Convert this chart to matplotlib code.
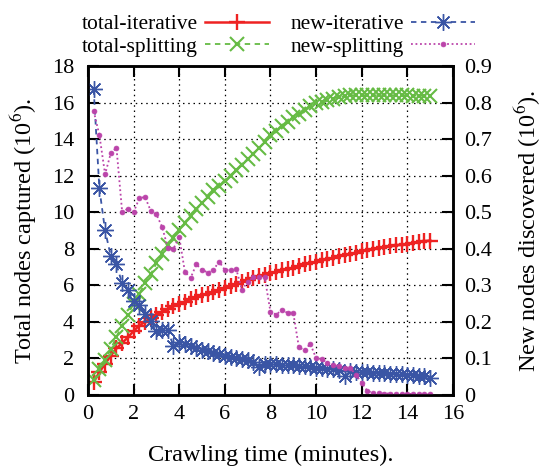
import numpy as np
import matplotlib
matplotlib.use("Agg")
import matplotlib.pyplot as plt

plt.rcParams['font.family'] = ['Liberation Serif', 'DejaVu Serif']
plt.rcParams['mathtext.fontset'] = 'stix'

# crawling time, one sample every 15 s
minutes = np.arange(1, 61) * 0.25

total_iterative = [0.7, 1.25, 1.7, 2.15, 2.55, 2.85, 3.15, 3.5, 3.8, 4.0,
                   4.2, 4.38, 4.55, 4.7, 4.85, 4.97, 5.1, 5.25, 5.35, 5.45,
                   5.55, 5.65, 5.76, 5.87, 5.97, 6.07, 6.17, 6.28, 6.39, 6.5,
                   6.58, 6.67, 6.75, 6.83, 6.9, 6.97, 7.06, 7.15, 7.22, 7.28,
                   7.36, 7.43, 7.5, 7.58, 7.65, 7.72, 7.79, 7.86, 7.92, 7.97,
                   8.03, 8.08, 8.13, 8.18, 8.23, 8.27, 8.32, 8.37, 8.41, 8.45]
total_splitting = [0.8, 1.4, 1.9, 2.5, 3.2, 3.8, 4.4, 5.0, 5.55, 6.1,
                   6.6, 7.2, 7.7, 8.2, 8.6, 9.0, 9.4, 9.8, 10.15, 10.5,
                   10.85, 11.2, 11.45, 11.7, 12.0, 12.3, 12.6, 12.9, 13.2, 13.5,
                   13.85, 14.2, 14.45, 14.7, 14.95, 15.2, 15.4, 15.6, 15.8, 15.95,
                   16.05, 16.15, 16.22, 16.3, 16.35, 16.4, 16.4, 16.4, 16.4, 16.4,
                   16.4, 16.4, 16.4, 16.4, 16.4, 16.4, 16.38, 16.38, 16.36, 16.35]
new_iterative = [0.836, 0.565, 0.45, 0.38, 0.357, 0.305, 0.288, 0.256, 0.246, 0.222,
                 0.203, 0.175, 0.178, 0.178, 0.133, 0.145, 0.14, 0.135, 0.128, 0.124,
                 0.12, 0.116, 0.112, 0.108, 0.105, 0.102, 0.099, 0.095, 0.09, 0.076,
                 0.086, 0.085, 0.084, 0.083, 0.082, 0.081, 0.08, 0.078, 0.076, 0.075,
                 0.074, 0.072, 0.07, 0.068, 0.052, 0.065, 0.064, 0.063, 0.062, 0.061,
                 0.06, 0.059, 0.058, 0.058, 0.057, 0.056, 0.055, 0.053, 0.051, 0.046]
new_splitting = [0.777, 0.711, 0.604, 0.661, 0.676, 0.5, 0.51, 0.5, 0.538, 0.542,
                 0.504, 0.494, 0.46, 0.403, 0.4, 0.433, 0.337, 0.32, 0.357, 0.343,
                 0.335, 0.342, 0.365, 0.342, 0.342, 0.345, 0.287, 0.31, 0.322, 0.322,
                 0.322, 0.228, 0.22, 0.232, 0.225, 0.225, 0.13, 0.123, 0.14, 0.101,
                 0.098, 0.088, 0.082, 0.079, 0.073, 0.074, 0.055, 0.034, 0.011, 0.006,
                 0.005, 0.004, 0.004, 0.003, 0.003, 0.003, 0.003, 0.002, 0.002, 0.002]

TICK_FS = 16
LABEL_FS = 17.5
LEG_FS = 15.5

fig = plt.figure(figsize=(5.43, 4.68), dpi=100)
ax = fig.add_axes([0.162, 0.156, 0.672, 0.703])
ax2 = ax.twinx()

asterisk = (8, 2, 0)
l1, = ax.plot(minutes, total_iterative, color='#ee2222', lw=1.8, ls='-',
              marker='+', ms=11, mew=1.7, label='total-iterative')
l2, = ax.plot(minutes, total_splitting, color='#66bb44', lw=1.3, ls=(0, (3, 2.5)),
              marker='x', ms=9.5, mew=1.5, label='total-splitting')
l3, = ax2.plot(minutes, new_iterative, color='#3a55a5', lw=1.3, ls=(0, (3, 2.5)),
               marker=asterisk, ms=12, mew=1.0, label='new-iterative')
l4, = ax2.plot(minutes, new_splitting, color='#bb44aa', lw=1.3, ls=(0, (1, 1.5)),
               marker='o', ms=3.5, mew=0.5, label='new-splitting')

ax.set_xlim(0, 16)
ax.set_ylim(0, 18)
ax2.set_ylim(0, 0.9)
ax.set_xticks(range(0, 17, 2))
ax.set_yticks(range(0, 19, 2))
ax2.set_yticks(np.arange(0, 0.91, 0.1))
ax2.set_yticklabels(['0'] + ['%.1f' % v for v in np.arange(0.1, 0.91, 0.1)])

ax.grid(True, color='black', ls=(0, (1.2, 3)), lw=0.9)
ax.tick_params(axis='both', direction='in', length=8, width=1.5, labelsize=TICK_FS)
ax.tick_params(axis='y', pad=10)
ax.tick_params(axis='x', top=True, pad=7)
ax2.tick_params(axis='y', direction='in', length=8, width=1.5, labelsize=TICK_FS, pad=8)
for a in (ax, ax2):
    for s in a.spines.values():
        s.set_linewidth(1.8)

ax.set_xlabel('Crawling time (minutes).', fontsize=LABEL_FS, va='center')
ax.set_ylabel(r'Total nodes captured (10$^6$).', fontsize=LABEL_FS, va='center')
ax2.set_ylabel(r'New nodes discovered (10$^6$).', fontsize=LABEL_FS, va='center')
ax.xaxis.set_label_coords(0.5, -0.185)
ax.yaxis.set_label_coords(-0.175, 0.5)
ax2.yaxis.set_label_coords(1.205, 0.5)

fig.legend(handles=[l1, l2, l3, l4], ncol=2, markerfirst=False, frameon=False,
           loc='center', bbox_to_anchor=(0.513, 0.924), fontsize=LEG_FS,
           handlelength=3.0, handletextpad=0.3, columnspacing=1.0,
           labelspacing=0.1, borderaxespad=0)

fig.savefig('out.png', dpi=100)
